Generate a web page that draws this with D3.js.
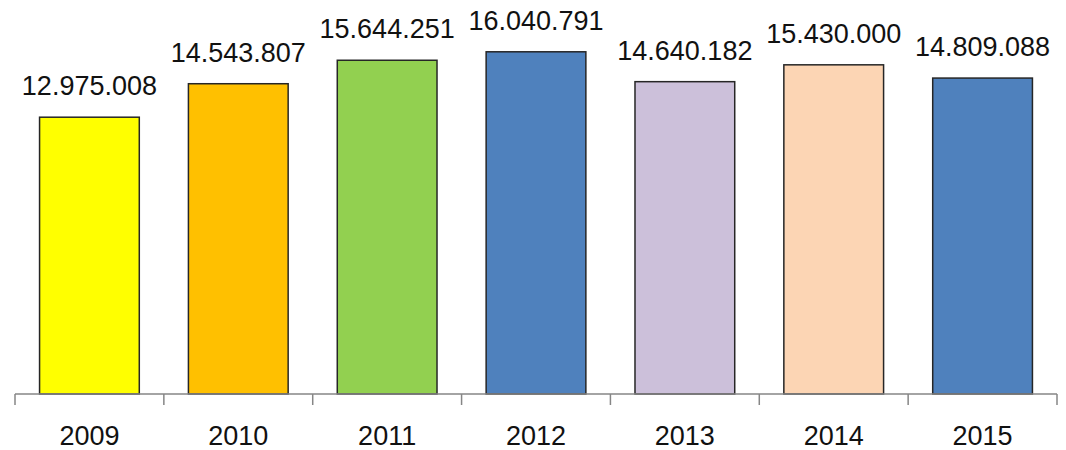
<!DOCTYPE html>
<html>
<head>
<meta charset="utf-8">
<script src="https://cdn.jsdelivr.net/npm/d3@7"></script>
<style>
  body { margin: 0; background: #fff; }
  text { font-family: "Liberation Sans", Arial, sans-serif; }
</style>
</head>
<body>
<script>
let years = ["2009", "2010", "2011", "2012", "2013", "2014", "2015"];
let values = [12975008, 14543807, 15644251, 16040791, 14640182, 15430000, 14809088];
let labels = ["12.975.008", "14.543.807", "15.644.251", "16.040.791", "14.640.182", "15.430.000", "14.809.088"];
let colors = ["#FFFF00", "#FFC000", "#92D050", "#4F81BD", "#CCC0DA", "#FCD5B4", "#4F81BD"];

let width = 1066, height = 450;

let svg = d3.select("body").append("svg")
    .attr("width", width)
    .attr("height", height);

let x = d3.scaleBand()
    .domain(years)
    .range([15, 1057])
    .paddingInner(0.33)
    .paddingOuter(0.165);

let y = d3.scaleLinear()
    .domain([0, 18000000])
    .range([394, 10]);

// bars
svg.selectAll("rect.bar")
    .data(years)
    .enter()
    .append("rect")
    .attr("class", "bar")
    .attr("x", d => x(d))
    .attr("y", (d, i) => y(values[i]))
    .attr("width", x.bandwidth())
    .attr("height", (d, i) => y(0) - y(values[i]))
    .attr("fill", (d, i) => colors[i])
    .attr("stroke", "#262626")
    .attr("stroke-width", 1.5);

// value labels
svg.selectAll("text.val")
    .data(years)
    .enter()
    .append("text")
    .attr("class", "val")
    .attr("x", d => x(d) + x.bandwidth() / 2)
    .attr("y", (d, i) => y(values[i]) - 22)
    .attr("text-anchor", "middle")
    .attr("font-size", 27)
    .attr("fill", "#111")
    .text((d, i) => labels[i]);

// x axis
let step = x.step();
let axis = svg.append("g");
axis.append("line")
    .attr("x1", 15).attr("x2", 1057)
    .attr("y1", y(0)).attr("y2", y(0))
    .attr("stroke", "#868686")
    .attr("stroke-width", 1.5);

let bounds = years.map(d => x(d) - step * x.paddingInner() / 2);
bounds.push(x(years[years.length - 1]) + x.bandwidth() + step * x.paddingInner() / 2);

axis.selectAll("line.tick")
    .data(bounds)
    .enter()
    .append("line")
    .attr("class", "tick")
    .attr("x1", d => d).attr("x2", d => d)
    .attr("y1", y(0)).attr("y2", y(0) + 11)
    .attr("stroke", "#868686")
    .attr("stroke-width", 1.5);

axis.selectAll("text.year")
    .data(years)
    .enter()
    .append("text")
    .attr("class", "year")
    .attr("x", d => x(d) + x.bandwidth() / 2)
    .attr("y", 445)
    .attr("text-anchor", "middle")
    .attr("font-size", 27)
    .attr("fill", "#111")
    .text(d => d);
</script>
</body>
</html>
